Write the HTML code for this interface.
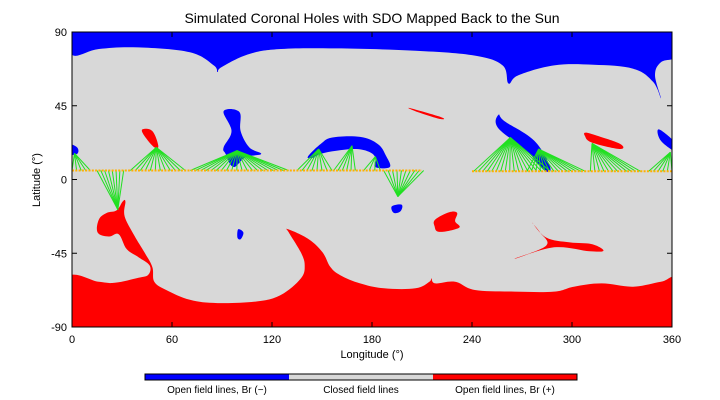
<!DOCTYPE html>
<html><head><meta charset="utf-8"><style>
html,body{margin:0;padding:0;background:#fff;width:720px;height:400px;overflow:hidden}
svg{display:block;font-family:"Liberation Sans",sans-serif}
</style></head><body>
<svg id="chart" width="720" height="400" viewBox="0 0 720 400">
<text x="372" y="23" text-anchor="middle" font-size="14" fill="#000">Simulated Coronal Holes with SDO Mapped Back to the Sun</text>
<defs><clipPath id="pc"><rect x="72" y="32" width="600" height="295"/></clipPath></defs>
<g id="plot" clip-path="url(#pc)">
<rect x="72" y="32" width="600" height="295" fill="#d8d8d8"/>
</g>
<rect x="72" y="32" width="600" height="295" fill="none" stroke="#000" stroke-width="1"/>
<g id="axes"></g>
<text x="372" y="358" text-anchor="middle" font-size="11">Longitude (°)</text>
<text transform="translate(40,180) rotate(-90)" text-anchor="middle" font-size="11">Latitude (°)</text>
<g>
<rect x="145" y="374" width="144" height="6" fill="#0000ff"/>
<rect x="289" y="374" width="144" height="6" fill="#d8d8d8"/>
<rect x="433" y="374" width="144" height="6" fill="#ff0000"/>
<rect x="145" y="374" width="432" height="6" fill="none" stroke="#000" stroke-width="1"/>
<text x="217" y="393" text-anchor="middle" font-size="10">Open field lines, Br (−)</text>
<text x="361" y="393" text-anchor="middle" font-size="10">Closed field lines</text>
<text x="505" y="393" text-anchor="middle" font-size="10">Open field lines, Br (+)</text>
</g>
</svg>
<script>
const xTicks=[0,60,120,180,240,300,360];
const yTicks=[90,45,0,-45,-90];
// field-line fans: source point (lon,lat) and footpoint lon range on SDO track
const fanSrcLon=[1.5,27.5,50.6,99,148,168,182,195.5,263,280,312,359];
const fanSrcLat=[16,-18.4,19.6,17.6,18.6,20.6,14,-10.4,25.6,18.6,22,16.6];
const fanStartLon=[0,15,35,71,135,157,175,187,241,273,311,346];
const fanEndLon=[11,31,68,130,156,170,185,211,287,308,341,360];
const fanCount=[5,8,12,20,8,6,4,10,18,14,12,6];
const trackSegStart=[0,240];
const trackSegEnd=[210,360];
const trackLat=[5.5,5.0];

const NS='http://www.w3.org/2000/svg';
const X=l=>72+l*600/360, Y=b=>32+(90-b)*295/180;
const zx=v=>72+(v-32)/1516*600, zy=v=>32+(v-28)/900*295;
const shapes=[
 ['#0000ff','north-polar-hole',[[20,20],[32,98],[100,80],[200,75],[330,90],[390,130],[400,150],[410,135],[480,95],[560,80],[700,78],[900,85],[1050,100],[1120,130],[1135,185],[1160,160],[1250,130],[1350,128],[1450,140],[1500,180],[1520,230],[1505,160],[1520,120],[1560,100],[1560,20]]],
 ['#0000ff','hole-lon95',[[415,270],[455,272],[458,330],[480,380],[510,400],[470,410],[440,440],[420,400],[415,380],[435,330]]],
 ['#0000ff','hole-arc-lon165',[[628,408],[660,370],[690,350],[760,348],[805,370],[825,405],[835,440],[798,440],[800,415],[785,395],[750,385],[700,390],[660,400],[640,412]]],
 ['#0000ff','hole-lon195',[[840,560],[865,555],[862,575],[845,580]]],
 ['#0000ff','hole-diagonal-lon270',[[1110,280],[1125,300],[1200,360],[1240,440],[1225,450],[1180,390],[1108,320]]],
 ['#0000ff','hole-right-edge',[[1515,325],[1560,370],[1560,395],[1520,360]]],
 ['#0000ff','hole-left-edge',[[20,370],[45,380],[45,400],[20,400]]],
 ['#0000ff','hole-dot-lon100',[[452,630],[465,640],[458,660],[450,655]]],
 ['#ff0000','red-lon45',[[210,325],[235,330],[250,375],[240,380],[215,345]]],
 ['#ff0000','red-lon210',[[885,260],[965,288],[960,293],[905,272]]],
 ['#ff0000','red-lon315',[[1330,335],[1360,345],[1418,370],[1415,385],[1345,365],[1328,345]]],
 ['#ff0000','red-lon225',[[950,600],[985,578],[1005,580],[1000,605],[1010,625],[960,638],[948,620]]],
 ['#ff0000','red-streak-lon290',[[1195,610],[1230,655],[1290,670],[1345,675],[1375,695],[1340,697],[1250,685],[1150,720],[1230,680],[1215,640]]],
 ['#ff0000','south-polar-hole',[[20,940],[20,778],[100,790],[140,793],[200,778],[225,768],[228,740],[200,715],[170,690],[150,645],[125,652],[97,640],[100,600],[120,580],[145,572],[160,545],[167,545],[165,590],[190,650],[215,700],[235,745],[240,790],[270,815],[330,845],[400,855],[500,850],[560,830],[610,780],[620,740],[610,700],[580,640],[578,630],[630,660],[665,700],[685,745],[710,770],[760,795],[820,810],[900,810],[935,790],[940,780],[950,795],[1000,790],[1050,815],[1150,820],[1250,820],[1300,805],[1370,795],[1450,805],[1520,790],[1560,785],[1560,940]]]
];
function smooth(pts){
 const n=pts.length;let d='M'+pts[0][0].toFixed(1)+','+pts[0][1].toFixed(1);
 for(let i=0;i<n;i++){
  const p0=pts[(i-1+n)%n],p1=pts[i],p2=pts[(i+1)%n],p3=pts[(i+2)%n];
  const t=0.18;
  const c1=[p1[0]+(p2[0]-p0[0])*t,p1[1]+(p2[1]-p0[1])*t];
  const c2=[p2[0]-(p3[0]-p1[0])*t,p2[1]-(p3[1]-p1[1])*t];
  d+=' C'+c1.map(v=>v.toFixed(1)).join(',')+' '+c2.map(v=>v.toFixed(1)).join(',')+' '+p2.map(v=>v.toFixed(1)).join(',');
 }
 return d+'Z';
}
const plot=document.getElementById('plot');
shapes.forEach(s=>{
 const p=document.createElementNS(NS,'path');
 p.setAttribute('d',smooth(s[2].map(q=>[zx(q[0]),zy(q[1])])));
 p.setAttribute('fill',s[0]);
 
 
 plot.appendChild(p);
});
for(let i=0;i<fanSrcLon.length;i++){
 const g=document.createElementNS(NS,'g');
 
 
 const n=fanCount[i];
 const tl=fanStartLon[i]>=240?trackLat[1]:trackLat[0];
 for(let k=0;k<n;k++){
  const lon=fanStartLon[i]+(fanEndLon[i]-fanStartLon[i])*(n>1?k/(n-1):0);
  const l=document.createElementNS(NS,'line');
  l.setAttribute('x1',X(fanSrcLon[i]));l.setAttribute('y1',Y(fanSrcLat[i]));
  l.setAttribute('x2',X(lon));l.setAttribute('y2',Y(tl));
  l.setAttribute('stroke','#20e020');l.setAttribute('stroke-width','1');
  
  
  g.appendChild(l);
 }
 plot.appendChild(g);
}
for(let s=0;s<trackSegStart.length;s++){
 const l=document.createElementNS(NS,'line');
 l.setAttribute('x1',X(trackSegStart[s]));l.setAttribute('x2',X(trackSegEnd[s]));
 l.setAttribute('y1',Y(trackLat[s]));l.setAttribute('y2',Y(trackLat[s]));
 l.setAttribute('stroke','#ffb000');l.setAttribute('stroke-width','2');l.setAttribute('stroke-dasharray','2 1.3');
 
 
 plot.appendChild(l);
}
const ax=document.getElementById('axes');
xTicks.forEach(v=>{
 [[327,322],[32,37]].forEach(p=>{const t=document.createElementNS(NS,'line');t.setAttribute('x1',X(v));t.setAttribute('x2',X(v));t.setAttribute('y1',p[0]);t.setAttribute('y2',p[1]);t.setAttribute('stroke','#000');
 
 
 ax.appendChild(t);});
 const tx=document.createElementNS(NS,'text');tx.setAttribute('x',X(v));tx.setAttribute('y',343);tx.setAttribute('text-anchor','middle');tx.setAttribute('font-size','11');tx.textContent=v;
 
 
 ax.appendChild(tx);
});
yTicks.forEach(v=>{
 [[72,77],[672,667]].forEach(p=>{const t=document.createElementNS(NS,'line');t.setAttribute('y1',Y(v));t.setAttribute('y2',Y(v));t.setAttribute('x1',p[0]);t.setAttribute('x2',p[1]);t.setAttribute('stroke','#000');
 
 
 ax.appendChild(t);});
 const tx=document.createElementNS(NS,'text');tx.setAttribute('x',67);tx.setAttribute('y',Y(v)+4);tx.setAttribute('text-anchor','end');tx.setAttribute('font-size','11');tx.textContent=v;
 
 
 ax.appendChild(tx);
});
</script>
</body></html>
